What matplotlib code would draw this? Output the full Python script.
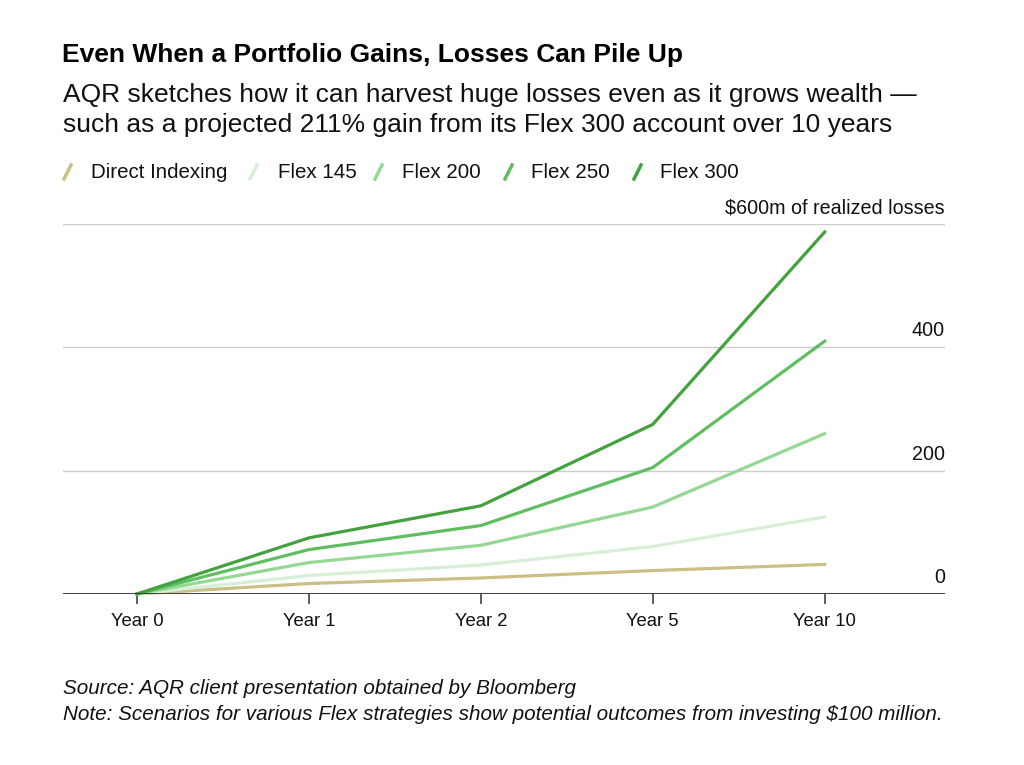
import matplotlib
matplotlib.use('Agg')
import matplotlib.pyplot as plt
from matplotlib.lines import Line2D

# realized losses ($m) per scenario
years = ['Year 0', 'Year 1', 'Year 2', 'Year 5', 'Year 10']
direct_indexing = [0, 17, 26, 38, 48]
flex_145 = [0, 30, 47, 77, 125]
flex_200 = [0, 51, 79, 141, 260]
flex_250 = [0, 72, 111, 205, 410]
flex_300 = [0, 91, 143, 275, 587]

series_names = ['Direct Indexing', 'Flex 145', 'Flex 200', 'Flex 250', 'Flex 300']
series = [direct_indexing, flex_145, flex_200, flex_250, flex_300]
colors = ['#cbbf86', '#d7efd7', '#93d994', '#5fbf60', '#43a23d']

y_ticks = [0, 200, 400, 600]
y_labels = ['0', '200', '400', '$600m of realized losses']

plt.rcParams['font.family'] = ['Liberation Sans', 'DejaVu Sans']

W, H = 1024, 765
fig = plt.figure(figsize=(W / 100, H / 100), dpi=100)

def fx(px):
	return px / W

def fy(py):
	return 1 - py / H

ax = fig.add_axes([fx(63), fy(594), fx(945 - 63), (594 - 224) / H])
x = list(range(len(years)))

for name, vals, c in zip(series_names, series, colors):
	ax.plot(x, vals, color=c, lw=2.3, solid_joinstyle='miter', clip_on=False, zorder=3)

ax.set_xlim(-0.43, 4.70)
ax.set_ylim(0, 600)

for t in y_ticks[1:]:
	ax.axhline(t, color='#cccccc', lw=1, zorder=1)
ax.axhline(0, color='#333333', lw=1.3, zorder=4)

for t, lab in zip(y_ticks, y_labels):
	ax.annotate(lab, xy=(1, t), xycoords=('axes fraction', 'data'), xytext=(0, 5),
		textcoords='offset points', ha='right', va='bottom', fontsize=14.2, color='#111111')

ax.set_xticks(x)
ax.set_xticklabels(years, fontsize=13.3, color='#111111')
ax.tick_params(axis='x', length=7, width=1.1, color='#333333', pad=7)
ax.set_yticks([])
for s in ax.spines.values():
	s.set_visible(False)

# title + subtitle
fig.text(fx(62), fy(55), 'Even When a Portfolio Gains, Losses Can Pile Up', fontsize=19,
	fontweight='bold', va='center', ha='left', color='#000000')
fig.text(fx(63), fy(95), 'AQR sketches how it can harvest huge losses even as it grows wealth \u2014',
	fontsize=19, va='center', ha='left', color='#111111')
fig.text(fx(63), fy(125), 'such as a projected 211% gain from its Flex 300 account over 10 years',
	fontsize=19, va='center', ha='left', color='#111111')

# legend with slash markers
marker_x = [64, 250, 375, 505, 634]
text_x = [91, 278, 402, 531, 660]
for name, c, mx, tx in zip(series_names, colors, marker_x, text_x):
	fig.add_artist(Line2D([fx(mx), fx(mx + 7)], [fy(179), fy(165)], color=c, lw=2.5,
		transform=fig.transFigure))
	fig.text(fx(tx), fy(172), name, fontsize=14.8, va='center', ha='left', color='#111111')

# footer
fig.text(fx(63), fy(689), 'Source: AQR client presentation obtained by Bloomberg', fontsize=14.9,
	style='italic', va='center', ha='left', color='#111111')
fig.text(fx(63), fy(714), 'Note: Scenarios for various Flex strategies show potential outcomes from investing $100 million.',
	fontsize=14.9, style='italic', va='center', ha='left', color='#111111')

fig.savefig('out.png', dpi=100, facecolor='white')
